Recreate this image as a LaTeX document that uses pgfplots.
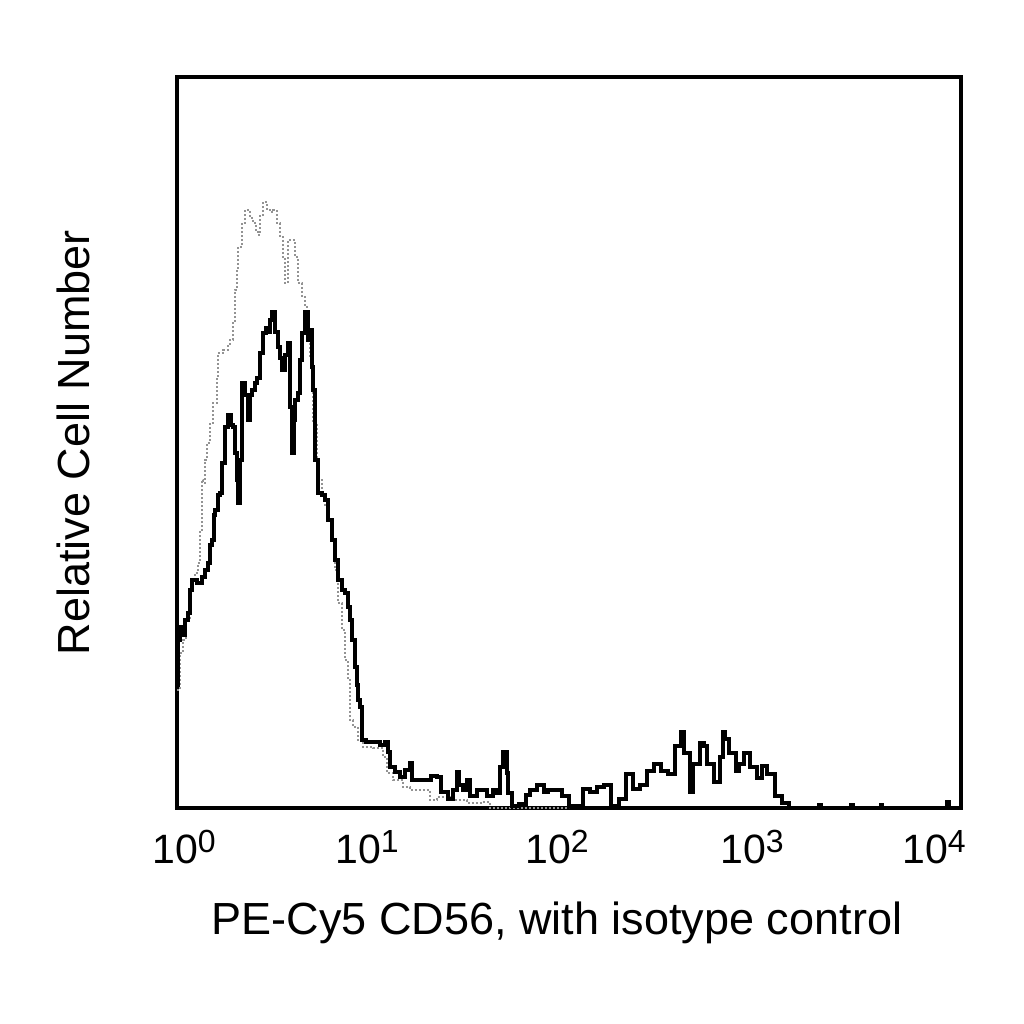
\documentclass[border=0pt]{standalone}
\usepackage{pgfplots}
\pgfplotsset{compat=1.18}
\usepackage{fontspec}
\setmainfont{Liberation Sans}
\newcommand\dec[1]{10\raisebox{5.5pt}{\fontsize{16pt}{16pt}\selectfont #1}}
\begin{document}
\begin{tikzpicture}
\path[use as bounding box] (0,0) rectangle (512pt,512pt);
\begin{axis}[
    at={(88.5pt,108pt)}, anchor=south west,
    scale only axis, width=392pt, height=365.5pt,
    xmin=0, xmax=4, ymin=0, ymax=731,
    ytick=\empty,
    xtick={0.036,0.969,1.939,2.934,3.862},
    xticklabels={\dec{0},\dec{1},\dec{2},\dec{3},\dec{4}},
    major tick length=0pt,
    axis line style={line width=2pt},
    xticklabel style={anchor=base, yshift=-27.5pt, font=\fontsize{20.5pt}{20.5pt}\selectfont},
    xlabel={PE-Cy5 CD56, with isotype control},
    ylabel={Relative Cell Number},
    xlabel style={at={(axis description cs:0.4847,-0.1737)}, anchor=base, font=\fontsize{22.5pt}{22.5pt}\selectfont},
    ylabel style={at={(axis description cs:-0.111,0.5)}, anchor=base, font=\fontsize{22.5pt}{22.5pt}\selectfont},
    clip=true,
]
% isotype control (grey, dotted)
\addplot[const plot, gray!85, line width=0.9pt, dash pattern=on 0.9pt off 1.1pt] coordinates {
(0,118) (0.015,155) (0.031,168) (0.046,188) (0.066,218) (0.077,228) (0.092,235)
(0.107,245) (0.117,278) (0.128,328) (0.133,325) (0.143,348) (0.153,365) (0.168,385)
(0.184,405) (0.204,431) (0.209,455) (0.235,458) (0.260,463) (0.270,468) (0.286,485)
(0.296,518) (0.306,538) (0.311,561) (0.332,585) (0.347,598) (0.372,590) (0.388,585)
(0.403,578) (0.413,573) (0.423,593) (0.439,606) (0.459,598) (0.474,596) (0.490,598)
(0.510,585) (0.526,571) (0.541,551) (0.551,525) (0.566,568) (0.587,568) (0.602,551)
(0.617,525) (0.638,511) (0.653,501) (0.663,478) (0.679,451) (0.694,385) (0.714,351)
(0.719,328) (0.740,313) (0.755,303) (0.770,288) (0.791,268) (0.806,238) (0.821,205)
(0.842,178) (0.857,148) (0.872,128) (0.883,88) (0.898,81) (0.923,68) (0.949,61)
(1.000,60) (1.051,51) (1.071,35) (1.102,28) (1.153,21) (1.189,18) (1.240,18)
(1.291,8) (1.327,11) (1.393,8) (1.480,5) (1.561,6) (1.597,0) (2.0,0)
};
% PE-Cy5 CD56 (black)
\addplot[const plot, black, line width=1.6pt] coordinates {
(0,123) (0.005,168) (0.015,181) (0.031,173) (0.041,188) (0.056,195) (0.066,218)
(0.077,228) (0.102,225) (0.128,231) (0.143,238) (0.158,245) (0.168,263) (0.179,268)
(0.189,293) (0.194,298) (0.209,313) (0.219,315) (0.230,345) (0.245,381) (0.260,393)
(0.276,383) (0.286,381) (0.296,355) (0.306,328) (0.311,305) (0.321,348) (0.332,425)
(0.347,413) (0.362,388) (0.372,413) (0.383,418) (0.398,425) (0.408,430) (0.423,455)
(0.439,475) (0.454,480) (0.464,476) (0.474,488) (0.485,496) (0.500,476) (0.515,461)
(0.526,450) (0.536,438) (0.551,453) (0.566,465) (0.577,401) (0.587,355) (0.597,388)
(0.602,408) (0.617,415) (0.628,448) (0.638,475) (0.653,496) (0.668,468) (0.679,478)
(0.689,441) (0.694,418) (0.704,348) (0.719,315) (0.740,313) (0.755,308) (0.770,288)
(0.791,268) (0.806,248) (0.821,228) (0.842,218) (0.857,215) (0.872,201) (0.883,188)
(0.893,168) (0.908,141) (0.918,123) (0.923,108) (0.934,101) (0.944,68) (0.964,66)
(1.000,66) (1.036,63) (1.061,66) (1.077,56) (1.087,41) (1.112,36) (1.138,31)
(1.163,38) (1.189,45) (1.199,28) (1.240,28) (1.276,28) (1.296,32) (1.327,31)
(1.347,16) (1.383,9) (1.408,18) (1.429,36) (1.439,23) (1.459,18) (1.480,28)
(1.495,12) (1.531,18) (1.582,12) (1.612,18) (1.628,15) (1.648,41) (1.663,56)
(1.684,35) (1.689,15) (1.709,2) (1.745,4) (1.781,13) (1.801,18) (1.837,23)
(1.872,16) (1.893,18) (1.964,12) (2.000,2) (2.036,2) (2.071,19) (2.107,16)
(2.143,21) (2.179,23) (2.214,2) (2.255,9) (2.291,34) (2.327,19) (2.362,23)
(2.398,37) (2.434,44) (2.469,37) (2.505,34) (2.541,62) (2.571,76) (2.587,55)
(2.617,16) (2.633,44) (2.668,65) (2.689,62) (2.704,44) (2.740,26) (2.770,51)
(2.786,76) (2.796,69) (2.816,55) (2.852,37) (2.867,44) (2.893,55) (2.923,41)
(2.959,30) (2.985,42) (3.010,34) (3.051,12) (3.087,5) (3.122,0) (3.260,0)
(3.275,3) (3.290,0) (3.420,0) (3.435,3) (3.450,0) (3.580,0) (3.590,3) (3.600,0)
(3.910,0) (3.925,6) (3.940,0) (4.0,0)
};
\end{axis}
\end{tikzpicture}
\end{document}
